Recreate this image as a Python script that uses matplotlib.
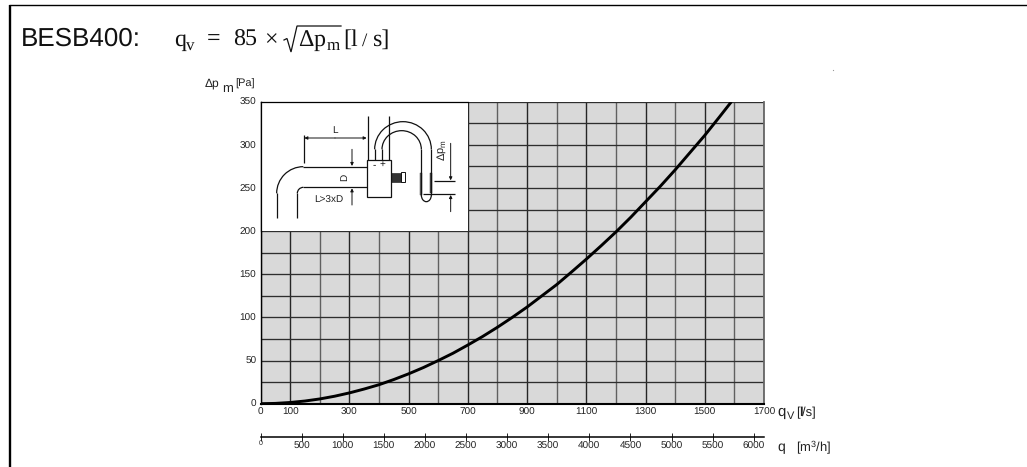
import numpy as np
import matplotlib
matplotlib.use("Agg")
import matplotlib.pyplot as plt
from matplotlib.patches import Rectangle, Arc

# ---------- data ----------
title_text = "BESB400:"
flow_ls = [0, 50, 100, 150, 200, 250, 300, 350, 400, 450, 500, 550, 600, 650, 700, 750, 800, 850, 900, 950,
           1000, 1050, 1100, 1150, 1200, 1250, 1300, 1350, 1400, 1450, 1500, 1550, 1590]
pressure_pa = [0, 0.35, 1.4, 3.1, 5.5, 8.65, 12.5, 17, 22, 28, 34.6, 41.9, 50, 58.5, 68, 77.9, 88.6, 100, 112, 125,
               138, 152.6, 167.5, 183, 199, 216, 234, 252, 271, 291, 311, 332.5, 350]
x_tick_values = [0, 100, 300, 500, 700, 900, 1100, 1300, 1500, 1700]
y_tick_values = [0, 50, 100, 150, 200, 250, 300, 350]
q_tick_values = [0, 500, 1000, 1500, 2000, 2500, 3000, 3500, 4000, 4500, 5000, 5500, 6000]
x_grid_values = list(range(0, 1800, 100))
y_grid_values = list(range(0, 375, 25))

W, H = 1027, 467
plt.rcParams["font.family"] = ["Liberation Sans", "DejaVu Sans"]
plt.rcParams["mathtext.fontset"] = "custom"
plt.rcParams["mathtext.rm"] = "Liberation Sans"
plt.rcParams["mathtext.it"] = "Liberation Sans"
plt.rcParams["mathtext.bf"] = "Liberation Sans:bold"
plt.rcParams["text.hinting"] = "no_hinting"
plt.rcParams["text.hinting_factor"] = 1

fig = plt.figure(figsize=(W / 100, H / 100), dpi=100)


def rect(x0, y0, x1, y1):
    return [x0 / W, 1 - y1 / H, (x1 - x0) / W, (y1 - y0) / H]


# overlay in pixel coordinates for the page frame and free text
page = fig.add_axes([0, 0, 1, 1], zorder=0)
page.set_xlim(0, W)
page.set_ylim(H, 0)
page.axis("off")
page.plot([10, 10], [4.5, H], color="black", lw=1.7, solid_capstyle="butt")
page.plot([9, W], [4.5, 4.5], color="black", lw=1.0, solid_capstyle="butt")
page.text(20.5, 46, title_text, fontsize=18.7, va="baseline", ha="left", color="#111111")


def serif(x, y, s, size=17.3):
    page.text(x, y, s, fontsize=size, family=["Liberation Serif", "DejaVu Serif"], va="baseline", ha="left", color="#111111")


serif(174, 46, "q")
serif(186, 50, "v", 12.5)
serif(207, 46, "=")
serif(233, 46, "85")
serif(264, 46, "\u00d7")
serif(298, 46, "\u0394")
serif(314, 46, "p")
serif(327, 50, "m", 12.5)
serif(343, 46, "[l")
serif(362, 46, "/", 14)
serif(372, 46, "s]")
# root sign
page.plot([284, 287, 291, 297, 341], [40, 38.5, 52, 26, 26], color="#111111", lw=0.9, solid_joinstyle="miter")

sans = dict(va="baseline", ha="left", color="#222222")
page.text(205, 87, "\u0394p", fontsize=8.8, **sans)
page.text(222, 92.5, "m", fontsize=9.2, **sans)
page.text(235, 87, "[Pa]", fontsize=8, **sans)
page.text(777, 416, "q", fontsize=10.5, **sans)
page.text(786.5, 419, "V", fontsize=8, **sans)
page.text(796, 416, "[", fontsize=9.5, **sans)
page.text(799, 416, "l", fontsize=9.5, fontweight="bold", **sans)
page.text(802, 416, "/s]", fontsize=9.5, **sans)
page.text(777, 451, "q", fontsize=10, **sans)
page.text(795.5, 451, r"[m$^{3}$/h]", fontsize=9.3, **sans)
page.plot([832.5], [69.5], marker="s", ms=0.8, color="#999999", mew=0)

# main chart
ax = fig.add_axes(rect(260.5, 101.7, 764, 403.7), zorder=2)
ax.set_xlim(0, 1700)
ax.set_ylim(0, 350)
ax.set_facecolor("#d9d9d9")
for i, v in enumerate(x_grid_values):
    ax.axvline(v, color="#262626" if i % 2 else "#606060", lw=1.0, zorder=1)
for v in y_grid_values:
    ax.axhline(v, color="#2e2e2e", lw=0.95, zorder=1)
ax.plot(flow_ls, pressure_pa, color="black", lw=2.1, zorder=4, solid_capstyle="butt")
ax.set_xticks(x_tick_values)
ax.set_yticks(y_tick_values)
ax.tick_params(length=0, labelsize=7, pad=3, colors="#222222")
for s in ax.spines.values():
    s.set_visible(False)
ax.spines["bottom"].set_visible(True)
ax.spines["bottom"].set_linewidth(1.5)
ax.spines["left"].set_visible(True)
ax.spines["left"].set_linewidth(1.0)
ax.spines["right"].set_visible(True)
ax.spines["right"].set_color("#666666")
ax.spines["right"].set_linewidth(1.3)

# lower scale in m3/h
ax2 = fig.add_axes(rect(260.5, 380, 764, 437.3), zorder=1)
ax2.set_xlim(0, 6125)
ax2.set_ylim(0, 1)
ax2.patch.set_alpha(0)
for k, s in ax2.spines.items():
    s.set_visible(k == "bottom")
ax2.spines["bottom"].set_linewidth(1.1)
ax2.set_yticks([])
ax2.set_xticks(q_tick_values)
ax2.set_xticklabels([""] + [str(v) for v in q_tick_values[1:]])
ax2.tick_params(axis="x", direction="inout", length=6, width=0.7, labelsize=7, pad=0, colors="#222222")
page.text(260.7, 443.5, "0", fontsize=4.8, ha="center", va="center", color="#222222")

# inset schematic, in pixel coordinates
sk = fig.add_axes(rect(260.5, 101.7, 468, 231), zorder=3)
sk.set_xlim(260.5, 468)
sk.set_ylim(231, 101.7)
sk.set_facecolor("white")
for k, s in sk.spines.items():
    s.set_visible(k in ("left", "top"))
    s.set_linewidth(0.9)
sk.set_xticks([])
sk.set_yticks([])

ZX = lambda z: 220 + z / 3
ZY = lambda z: 80 + z / 3


def zl(xs, ys, lw=0.9, c="#111111"):
    sk.plot([ZX(v) for v in xs], [ZY(v) for v in ys], color=c, lw=lw, solid_capstyle="butt")


def zarc(cx, cy, rx, ry, t1, t2, lw=0.9):
    sk.add_patch(Arc((ZX(cx), ZY(cy)), 2 * rx / 3, 2 * ry / 3, theta1=t1, theta2=t2, color="#111111", lw=lw))


def zarrow(x0, y0, x1, y1):
    sk.annotate("", xy=(ZX(x1), ZY(y1)), xytext=(ZX(x0), ZY(y0)),
                arrowprops=dict(arrowstyle="-|>", lw=0.7, color="#111111", mutation_scale=4.5, shrinkA=0, shrinkB=0))


# duct
zl([170, 170], [415, 340])
zarc(250, 340, 80, 80, 180, 270)
zl([250, 440], [260, 260])
zl([232, 232], [415, 340])
zarc(250, 340, 18, 18, 180, 270)
zl([250, 440], [322, 322])
# box and fan
sk.add_patch(Rectangle((ZX(440), ZY(240)), 72 / 3, 112 / 3, fc="white", ec="#111111", lw=0.9, zorder=3))
sk.add_patch(Rectangle((ZX(512), ZY(278)), 30 / 3, 27 / 3, fc="#333333", ec="#111111", lw=0.4))
sk.add_patch(Rectangle((ZX(542), ZY(276)), 13 / 3, 29 / 3, fc="white", ec="#111111", lw=0.7))
zl([443, 443], [108, 240])
zl([507, 507], [108, 240])
# L dimension
zl([253, 253], [165, 250])
zarrow(345, 174, 253, 174)
zarrow(345, 174, 440, 174)
sk.text(ZX(345), ZY(152), "L", fontsize=7.5, ha="center", va="center", color="#222222")
# D dimension
zarrow(396, 208, 396, 258)
zarrow(396, 375, 396, 325)
sk.text(ZX(373), ZY(291), "D", fontsize=7.5, ha="center", va="center", rotation=90, color="#222222")
sk.text(ZX(326), ZY(362), "L>3xD", fontsize=7.2, ha="center", va="center", color="#222222")
# U tube
zl([464, 464], [240, 208])
zl([486, 486], [240, 208])
zarc(549, 208, 85, 83, 180, 360)
zarc(545, 208, 59, 56, 180, 360)
zl([634, 634], [208, 345])
zl([604, 604], [208, 345])
zarc(619, 345, 15, 20, 0, 180)
sk.add_patch(Rectangle((ZX(599), ZY(278)), 6 / 3, 67 / 3, fc="#666666", ec="#333333", lw=0.3))
sk.add_patch(Rectangle((ZX(631), ZY(278)), 6 / 3, 62 / 3, fc="#555555", ec="#111111", lw=0.3))
sk.text(ZX(463), ZY(254), "-", fontsize=7, ha="center", va="center", color="#111111", zorder=5)
sk.text(ZX(487), ZY(253), "+", fontsize=7, ha="center", va="center", color="#111111", zorder=5)
# pressure dimension
zl([643, 705], [303, 303])
zl([610, 705], [343, 343])
zarrow(692, 190, 692, 301)
zarrow(692, 395, 692, 345)
sk.text(ZX(665), ZY(210), "\u0394p$_{\\mathrm{m}}$", fontsize=8, ha="center", va="center", rotation=90, color="#222222")

fig.savefig("out.png", dpi=100, facecolor="white")
